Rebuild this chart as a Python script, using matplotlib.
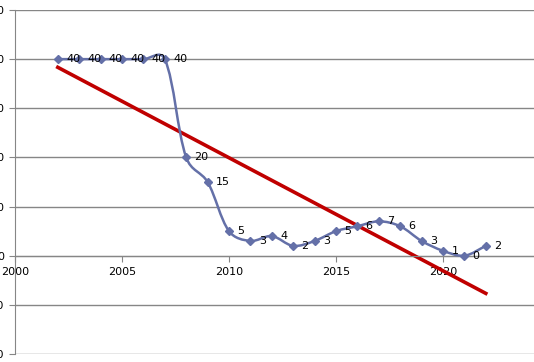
import numpy as np
import matplotlib.pyplot as plt
from matplotlib.path import Path
from matplotlib.patches import PathPatch

years = list(range(2002, 2023))
values = [40, 40, 40, 40, 40, 40, 20, 15, 5, 3, 4, 2, 3, 5, 6, 7, 6, 3, 1, 0, 2]
x_ticks = [2000, 2005, 2010, 2015, 2020]
y_ticks = [-20, -10, 0, 10, 20, 30, 40, 50]

series_color = "#6470A8"
trend_color = "#C00000"
grid_color = "#868686"


def smooth_path(xs, ys, sx=21.4, sy=4.9, mix=0.6):
    # Excel-like smoothed line: cubic bezier through every point,
    # tangent split partly by the on-screen length of neighbouring segments
    pts = np.column_stack([xs, ys]).astype(float)
    scale = np.array([sx, sy])
    n = len(pts)

    def tangent(i):
        p0 = pts[max(i - 1, 0)]
        p1 = pts[i]
        p2 = pts[min(i + 1, n - 1)]
        d1 = np.linalg.norm((p1 - p0) * scale)
        d2 = np.linalg.norm((p2 - p1) * scale)
        tot = d1 + d2 if d1 + d2 > 0 else 1.0
        f_in = (1 - mix) * 0.5 + mix * d1 / tot
        f_out = (1 - mix) * 0.5 + mix * d2 / tot
        return (p2 - p0), f_in, f_out

    verts = [pts[0]]
    codes = [Path.MOVETO]
    for i in range(n - 1):
        t1, _, f_out = tangent(i)
        t2, f_in, _ = tangent(i + 1)
        c1 = pts[i] + t1 * f_out / 3
        c2 = pts[i + 1] - t2 * f_in / 3
        verts += [c1, c2, pts[i + 1]]
        codes += [Path.CURVE4] * 3
    return Path(verts, codes)


fig = plt.figure(figsize=(5.34, 3.62), dpi=100)
ax = fig.add_axes([15 / 534, 8 / 362, 535 / 534, 344 / 362])

ax.set_xlim(2000, 2025)
ax.set_ylim(-20, 50)

ax.yaxis.grid(True, color=grid_color, linewidth=1)
ax.set_axisbelow(True)

ax.add_patch(PathPatch(smooth_path(years, values), facecolor="none",
                       edgecolor=series_color, linewidth=1.8, zorder=3))
ax.plot(years, values, linestyle="none", marker="D", markersize=4.5,
        color=series_color, zorder=4)

for x, v in zip(years, values):
    ax.annotate(str(v), (x, v), xytext=(6, 0), textcoords="offset points",
                va="center", ha="left", fontsize=8, zorder=5)

# linear trend line
k, b = np.polyfit(years, values, 1)
tx = np.array([years[0], years[-1]])
ax.plot(tx, k * tx + b, color=trend_color, linewidth=2.6, zorder=2)

ax.set_xticks(x_ticks)
ax.set_yticks(y_ticks)
ax.tick_params(axis="both", labelsize=8, color=grid_color, length=4, direction="out")
ax.tick_params(axis="x", pad=4)

for s in ["top", "right"]:
    ax.spines[s].set_visible(False)
ax.spines["bottom"].set_position(("data", 0))
ax.spines["bottom"].set_color(grid_color)
ax.spines["left"].set_color(grid_color)

fig.savefig("out.png", dpi=100)
